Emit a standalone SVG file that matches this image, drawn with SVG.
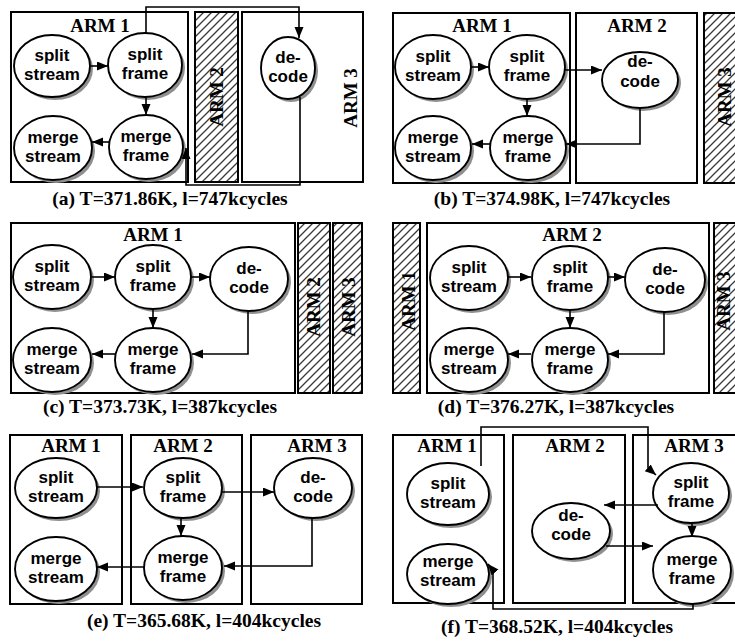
<svg xmlns="http://www.w3.org/2000/svg" width="735" height="642" viewBox="0 0 735 642">
<defs>
<pattern id="hatch" patternUnits="userSpaceOnUse" width="8" height="8">
<rect width="8" height="8" fill="#fff"/>
<path d="M-2,10 L10,-2 M-2,2 L2,-2 M6,10 L10,6" stroke="#3a3a3a" stroke-width="1.3"/>
</pattern>
<marker id="ah" markerUnits="userSpaceOnUse" markerWidth="12" markerHeight="10" refX="11" refY="4.5" orient="auto">
<path d="M0,0 L11,4.5 L0,9 z" fill="#000"/>
</marker>
</defs>
<style>
.box{fill:#fff;stroke:#000;stroke-width:2}
.hb{fill:url(#hatch);stroke:#000;stroke-width:2}
.arm{font-family:"Liberation Serif","Times New Roman",serif;font-weight:bold;font-size:19px;text-anchor:middle;fill:#000}
.cap{font-family:"Liberation Serif","Times New Roman",serif;font-weight:bold;font-size:19.5px;text-anchor:middle;fill:#000}
.nt{font-family:"Liberation Sans",Arial,sans-serif;font-weight:bold;font-size:17px;text-anchor:middle;fill:#000}
.el{fill:#fff;stroke:#000;stroke-width:1.9}
.sh{fill:#8f8f8f}
.cn{fill:none;stroke:#000;stroke-width:1.6;marker-end:url(#ah)}
</style>
<rect width="735" height="642" fill="#fff"/>

<!-- Panel (a) -->
<g id="a-arm1"><rect class="box" x="11" y="12" width="177" height="170"/><text class="arm" x="100" y="32">ARM 1</text></g>
<g id="a-arm2"><rect class="hb" x="195" y="12" width="43" height="170"/><text class="arm" transform="translate(223,97) rotate(-90)">ARM 2</text></g>
<g id="a-arm3"><rect class="box" x="242" y="12" width="121" height="170"/><text class="arm" transform="translate(357,98) rotate(-90)">ARM 3</text></g>
<g id="a-splitstream"><ellipse class="sh" cx="55" cy="69" rx="38" ry="31"/><ellipse class="el" cx="52" cy="66" rx="38" ry="31"/><text class="nt" x="52" y="61">split</text><text class="nt" x="52" y="80">stream</text></g>
<g id="a-splitframe"><ellipse class="sh" cx="148" cy="68" rx="37" ry="32"/><ellipse class="el" cx="145" cy="65" rx="37" ry="32"/><text class="nt" x="145" y="60">split</text><text class="nt" x="145" y="79">frame</text></g>
<g id="a-mergestream"><ellipse class="sh" cx="56" cy="151" rx="39" ry="32"/><ellipse class="el" cx="53" cy="148" rx="39" ry="32"/><text class="nt" x="53" y="143">merge</text><text class="nt" x="53" y="162">stream</text></g>
<g id="a-mergeframe"><ellipse class="sh" cx="149" cy="150" rx="37" ry="32"/><ellipse class="el" cx="146" cy="147" rx="37" ry="32"/><text class="nt" x="146" y="142">merge</text><text class="nt" x="146" y="161">frame</text></g>
<g id="a-decode"><ellipse class="sh" cx="291" cy="71" rx="27" ry="31"/><ellipse class="el" cx="288" cy="68" rx="27" ry="31"/><text class="nt" x="288" y="63">de-</text><text class="nt" x="288" y="82">code</text></g>
<g id="a-connectors">
<path class="cn" d="M91,66 H108"/>
<path class="cn" d="M146,97 V115"/>
<path class="cn" d="M110,142 H92"/>
<path class="cn" d="M146,33 V7 H299 V38"/>
<path class="cn" d="M300,97 V185 H186 V148"/>
</g>
<text class="cap" x="170" y="205">(a) T=371.86K, l=747kcycles</text>

<!-- Panel (b) -->
<g id="b-arm1"><rect class="box" x="393" y="13" width="177" height="170"/><text class="arm" x="482" y="32">ARM 1</text></g>
<g id="b-arm2"><rect class="box" x="576" y="13" width="121" height="170"/><text class="arm" x="637" y="32">ARM 2</text></g>
<g id="b-arm3"><rect class="hb" x="704" y="13" width="50" height="170"/><text class="arm" transform="translate(731,97) rotate(-90)">ARM 3</text></g>
<g id="b-splitstream"><ellipse class="sh" cx="436" cy="70" rx="38" ry="32"/><ellipse class="el" cx="433" cy="67" rx="38" ry="32"/><text class="nt" x="433" y="62">split</text><text class="nt" x="433" y="81">stream</text></g>
<g id="b-splitframe"><ellipse class="sh" cx="530" cy="70" rx="38" ry="32"/><ellipse class="el" cx="527" cy="67" rx="38" ry="32"/><text class="nt" x="527" y="62">split</text><text class="nt" x="527" y="81">frame</text></g>
<g id="b-mergestream"><ellipse class="sh" cx="436" cy="151" rx="38" ry="32"/><ellipse class="el" cx="433" cy="148" rx="38" ry="32"/><text class="nt" x="433" y="143">merge</text><text class="nt" x="433" y="162">stream</text></g>
<g id="b-mergeframe"><ellipse class="sh" cx="531" cy="151" rx="38" ry="32"/><ellipse class="el" cx="528" cy="148" rx="38" ry="32"/><text class="nt" x="528" y="143">merge</text><text class="nt" x="528" y="162">frame</text></g>
<g id="b-decode"><ellipse class="sh" cx="643" cy="83" rx="38" ry="28"/><ellipse class="el" cx="640" cy="80" rx="38" ry="28"/><text class="nt" x="640" y="67">de-</text><text class="nt" x="640" y="87">code</text></g>
<g id="b-connectors">
<path class="cn" d="M471,67 H489"/>
<path class="cn" d="M527,99 V116"/>
<path class="cn" d="M490,144 H472"/>
<path class="cn" d="M565,70 H602"/>
<path class="cn" d="M640,108 V144 H566"/>
</g>
<text class="cap" x="552" y="205">(b) T=374.98K, l=747kcycles</text>

<!-- Panel (c) -->
<g id="c-arm1"><rect class="box" x="11" y="223" width="284" height="170"/><text class="arm" x="153" y="241">ARM 1</text></g>
<g id="c-arm2"><rect class="hb" x="298" y="223" width="32" height="170"/><text class="arm" transform="translate(320,307) rotate(-90)">ARM 2</text></g>
<g id="c-arm3"><rect class="hb" x="333" y="223" width="29" height="170"/><text class="arm" transform="translate(355,307) rotate(-90)">ARM 3</text></g>
<g id="c-splitstream"><ellipse class="sh" cx="55" cy="280" rx="39" ry="32"/><ellipse class="el" cx="52" cy="277" rx="39" ry="32"/><text class="nt" x="52" y="272">split</text><text class="nt" x="52" y="291">stream</text></g>
<g id="c-splitframe"><ellipse class="sh" cx="156" cy="280" rx="38" ry="32"/><ellipse class="el" cx="153" cy="277" rx="38" ry="32"/><text class="nt" x="153" y="272">split</text><text class="nt" x="153" y="291">frame</text></g>
<g id="c-decode"><ellipse class="sh" cx="252" cy="282" rx="39" ry="32"/><ellipse class="el" cx="249" cy="279" rx="39" ry="32"/><text class="nt" x="249" y="274">de-</text><text class="nt" x="249" y="293">code</text></g>
<g id="c-mergestream"><ellipse class="sh" cx="55" cy="363" rx="39" ry="32"/><ellipse class="el" cx="52" cy="360" rx="39" ry="32"/><text class="nt" x="52" y="355">merge</text><text class="nt" x="52" y="374">stream</text></g>
<g id="c-mergeframe"><ellipse class="sh" cx="156" cy="363" rx="38" ry="32"/><ellipse class="el" cx="153" cy="360" rx="38" ry="32"/><text class="nt" x="153" y="355">merge</text><text class="nt" x="153" y="374">frame</text></g>
<g id="c-connectors">
<path class="cn" d="M92,277 H115"/>
<path class="cn" d="M191,277 H210"/>
<path class="cn" d="M153,309 V328"/>
<path class="cn" d="M115,354 H92"/>
<path class="cn" d="M248,311 V354 H192"/>
</g>
<text class="cap" x="160" y="413">(c) T=373.73K, l=387kcycles</text>

<!-- Panel (d) -->
<g id="d-arm1"><rect class="hb" x="393" y="223" width="27" height="170"/><text class="arm" transform="translate(415,301) rotate(-90)">ARM 1</text></g>
<g id="d-arm2"><rect class="box" x="427" y="223" width="282" height="170"/><text class="arm" x="572" y="241">ARM 2</text></g>
<g id="d-arm3"><rect class="hb" x="714" y="223" width="40" height="170"/><text class="arm" transform="translate(730,301) rotate(-90)">ARM 3</text></g>
<g id="d-splitstream"><ellipse class="sh" cx="472" cy="281" rx="39" ry="32"/><ellipse class="el" cx="469" cy="278" rx="39" ry="32"/><text class="nt" x="469" y="273">split</text><text class="nt" x="469" y="292">stream</text></g>
<g id="d-splitframe"><ellipse class="sh" cx="573" cy="281" rx="38" ry="32"/><ellipse class="el" cx="570" cy="278" rx="38" ry="32"/><text class="nt" x="570" y="273">split</text><text class="nt" x="570" y="292">frame</text></g>
<g id="d-decode"><ellipse class="sh" cx="668" cy="283" rx="40" ry="32"/><ellipse class="el" cx="665" cy="280" rx="40" ry="32"/><text class="nt" x="665" y="275">de-</text><text class="nt" x="665" y="294">code</text></g>
<g id="d-mergestream"><ellipse class="sh" cx="472" cy="363" rx="39" ry="32"/><ellipse class="el" cx="469" cy="360" rx="39" ry="32"/><text class="nt" x="469" y="355">merge</text><text class="nt" x="469" y="374">stream</text></g>
<g id="d-mergeframe"><ellipse class="sh" cx="573" cy="363" rx="38" ry="32"/><ellipse class="el" cx="570" cy="360" rx="38" ry="32"/><text class="nt" x="570" y="355">merge</text><text class="nt" x="570" y="374">frame</text></g>
<g id="d-connectors">
<path class="cn" d="M508,277 H531"/>
<path class="cn" d="M608,277 H625"/>
<path class="cn" d="M570,310 V328"/>
<path class="cn" d="M531,354 H508"/>
<path class="cn" d="M664,312 V354 H608"/>
</g>
<text class="cap" x="556" y="413">(d) T=376.27K, l=387kcycles</text>

<!-- Panel (e) -->
<g id="e-arm1"><rect class="box" x="10" y="435" width="112" height="169"/><text class="arm" x="71" y="452">ARM 1</text></g>
<g id="e-arm2"><rect class="box" x="131" y="435" width="111" height="169"/><text class="arm" x="183" y="452">ARM 2</text></g>
<g id="e-arm3"><rect class="box" x="251" y="435" width="111" height="169"/><text class="arm" x="317" y="452">ARM 3</text></g>
<g id="e-splitstream"><ellipse class="sh" cx="59" cy="491" rx="41" ry="30"/><ellipse class="el" cx="56" cy="488" rx="41" ry="30"/><text class="nt" x="56" y="483">split</text><text class="nt" x="56" y="502">stream</text></g>
<g id="e-splitframe"><ellipse class="sh" cx="186" cy="491" rx="39" ry="30"/><ellipse class="el" cx="183" cy="488" rx="39" ry="30"/><text class="nt" x="183" y="483">split</text><text class="nt" x="183" y="502">frame</text></g>
<g id="e-decode"><ellipse class="sh" cx="316" cy="491" rx="39" ry="30"/><ellipse class="el" cx="313" cy="488" rx="39" ry="30"/><text class="nt" x="313" y="483">de-</text><text class="nt" x="313" y="502">code</text></g>
<g id="e-mergestream"><ellipse class="sh" cx="59" cy="572" rx="41" ry="32"/><ellipse class="el" cx="56" cy="569" rx="41" ry="32"/><text class="nt" x="56" y="564">merge</text><text class="nt" x="56" y="583">stream</text></g>
<g id="e-mergeframe"><ellipse class="sh" cx="186" cy="571" rx="39" ry="32"/><ellipse class="el" cx="183" cy="568" rx="39" ry="32"/><text class="nt" x="183" y="563">merge</text><text class="nt" x="183" y="582">frame</text></g>
<g id="e-connectors">
<path class="cn" d="M97,487 H143"/>
<path class="cn" d="M222,492 H274"/>
<path class="cn" d="M181,518 V536"/>
<path class="cn" d="M144,567 H97"/>
<path class="cn" d="M312,518 V566 H224"/>
</g>
<text class="cap" x="204" y="627">(e) T=365.68K, l=404kcycles</text>

<!-- Panel (f) -->
<g id="f-arm1"><rect class="box" x="393" y="435" width="111" height="168"/><text class="arm" x="447" y="452">ARM 1</text></g>
<g id="f-arm2"><rect class="box" x="513" y="435" width="112" height="168"/><text class="arm" x="575" y="452">ARM 2</text></g>
<g id="f-arm3"><rect class="box" x="633" y="435" width="120" height="168"/><text class="arm" x="694" y="452">ARM 3</text></g>
<g id="f-splitstream"><ellipse class="sh" cx="451" cy="497" rx="41" ry="31"/><ellipse class="el" cx="448" cy="494" rx="41" ry="31"/><text class="nt" x="448" y="489">split</text><text class="nt" x="448" y="508">stream</text></g>
<g id="f-mergestream"><ellipse class="sh" cx="451" cy="577" rx="41" ry="30"/><ellipse class="el" cx="448" cy="574" rx="41" ry="30"/><text class="nt" x="448" y="567">merge</text><text class="nt" x="448" y="586">stream</text></g>
<g id="f-decode"><ellipse class="sh" cx="574" cy="534" rx="39" ry="28"/><ellipse class="el" cx="571" cy="531" rx="39" ry="28"/><text class="nt" x="571" y="521">de-</text><text class="nt" x="571" y="540">code</text></g>
<g id="f-splitframe"><ellipse class="sh" cx="694" cy="496" rx="38" ry="30"/><ellipse class="el" cx="691" cy="493" rx="38" ry="30"/><text class="nt" x="691" y="488">split</text><text class="nt" x="691" y="507">frame</text></g>
<g id="f-mergeframe"><ellipse class="sh" cx="695" cy="573" rx="39" ry="34"/><ellipse class="el" cx="692" cy="570" rx="39" ry="34"/><text class="nt" x="692" y="565">merge</text><text class="nt" x="692" y="584">frame</text></g>
<g id="f-connectors">
<path class="cn" d="M481,466 V427 H648 V468 L656,475"/>
<path class="cn" d="M658,505 H604"/>
<path class="cn" d="M692,523 V537"/>
<path class="cn" d="M606,546 H653"/>
<path class="cn" d="M693,604 V609 H493 V570 L488,564"/>
</g>
<text class="cap" x="557" y="633">(f) T=368.52K, l=404kcycles</text>
</svg>
